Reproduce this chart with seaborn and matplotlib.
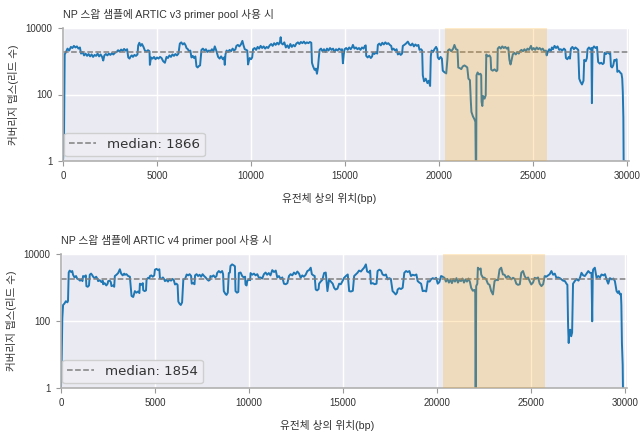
import matplotlib
matplotlib.use("Agg")
import matplotlib.pyplot as plt
from matplotlib.ticker import FixedLocator, NullLocator
from matplotlib.lines import Line2D
import seaborn as sns
import pandas as pd

titles = ["NP 스왑 샘플에 ARTIC v3 primer pool 사용 시",
          "NP 스왑 샘플에 ARTIC v4 primer pool 사용 시"]
medians = [1866, 1854]
x_label = "유전체 상의 위치(bp)"
y_label = "커버리지 뎁스(리드 수)"
x_ticks = [0, 5000, 10000, 15000, 20000, 25000, 30000]
y_ticks = [1, 100, 10000]
y_tick_labels = ["1", "100", "10000"]
highlight = [20290, 25750]

v3_pos = [0, 50, 90, 160, 240, 330, 420, 500, 580, 660, 740, 820, 900,
          960, 1040, 1120, 1200, 1280, 1360, 1440, 1520, 1600, 1680, 1760, 1840, 1920, 2000, 2080,
          2140, 2200, 2280, 2360, 2440, 2520, 2600, 2680, 2760,
          2850, 2930, 3010, 3090, 3170, 3250, 3330, 3410,
          3470, 3540, 3600, 3660, 3720, 3800, 3880, 3960,
          4000, 4060, 4130, 4200, 4280, 4354, 4430, 4520, 4600,
          4620, 4680, 4760, 4840, 4920, 5000, 5080, 5160, 5240, 5328, 5420,
          5505, 5580, 5660, 5740, 5820, 5900, 5980, 6060, 6140,
          6213, 6290, 6370, 6450, 6520, 6567, 6640, 6700, 6770, 6832, 6900, 6970, 7040, 7098, 7160, 7230, 7290,
          7364, 7440, 7520, 7600, 7680, 7760, 7840, 7920, 8000, 8072, 8150,
          8249, 8330, 8410, 8500, 8570, 8603, 8640, 8700, 8780, 8860, 8940, 9020, 9100, 9170,
          9222, 9300, 9380, 9460, 9541, 9600, 9665, 9740, 9800, 9842, 9890, 9930, 10000, 10060,
          10107, 10190, 10270, 10350, 10430, 10510, 10590, 10670, 10750, 10830, 10910,
          10992, 11070, 11150, 11230, 11310, 11390, 11470, 11540, 11576, 11611, 11690, 11770, 11850,
          11930, 12010, 12090, 12170, 12250, 12330,
          12408, 12490, 12570, 12650, 12730, 12810, 12890, 12970, 13050, 13130, 13204,
          13240, 13300, 13381, 13450, 13505, 13560, 13600,
          13646, 13720, 13800, 13880, 13960, 14040, 14120, 14200, 14280, 14360, 14440, 14520, 14600,
          14680, 14760, 14840, 14886, 14930,
          14974, 15060, 15140, 15220, 15300, 15380, 15417, 15500, 15580, 15660, 15740, 15820, 15900,
          15980, 16060, 16100,
          16125, 16200, 16280, 16370, 16440,
          16479, 16560, 16640, 16710,
          16745, 16820, 16900, 16980, 17060, 17140, 17220, 17300, 17380, 17453,
          17500, 17580, 17660, 17740, 17807, 17880, 17960, 18030,
          18072, 18150, 18240, 18338, 18420, 18500, 18580, 18660, 18740, 18820, 18900, 18957, 19040, 19100,
          19134, 19200, 19290, 19380, 19450, 19524, 19560,
          19600, 19680, 19754, 19842, 19900, 19931, 20000, 20080, 20150,
          20196, 20280, 20380, 20440, 20470, 20550, 20650, 20750, 20816, 20900, 20980,
          21020, 21100, 21180, 21260, 21350, 21430, 21500, 21560, 21640, 21690, 21720, 21800, 21880,
          21930, 21950, 21975, 21990, 22050, 22120, 22200, 22240,
          22260, 22300, 22340, 22420, 22480,
          22510, 22590, 22680, 22740, 22770, 22850, 22950, 23050, 23100,
          23120, 23200, 23280, 23360, 23440, 23520, 23600, 23680, 23740, 23800, 23850,
          23920, 24000, 24080, 24160, 24240, 24300, 24380, 24460, 24540, 24620, 24700, 24780, 24888,
          24950, 25030, 25110, 25190, 25270, 25350, 25430, 25510, 25600,
          25680, 25720, 25780, 25860, 25940, 26000, 26060, 26140, 26220, 26300, 26390, 26470, 26550,
          26640, 26710,
          26745, 26820, 26900, 26960,
          27010, 27090, 27170, 27250, 27330, 27400,
          27453, 27520, 27600, 27680, 27718, 27800, 27860,
          27895, 27970, 28040, 28100, 28127, 28160, 28240, 28320, 28400,
          28460, 28540, 28620, 28700, 28760,
          28800, 28880, 28960, 29040, 29100,
          29140, 29200, 29260,
          29320, 29380, 29440,
          29480, 29560, 29640, 29700, 29740, 29770, 29790, 29800, 29815, 29903]
v3_depth = [1, 3, 1600, 1900, 2400, 2100, 2700, 2500, 2900, 2600, 2800, 2400, 2600,
            1700, 1900, 1500, 1700, 1450, 1650, 1400, 1600, 1350, 1550, 1450, 1700, 1400, 1600, 1350,
            1050, 1500, 1650, 1500, 1700, 1550, 1750, 1600, 1800,
            1900, 2150, 1950, 2250, 2050, 2350, 2100, 2300,
            1300, 1200, 1400, 1500, 1350, 1550, 1450, 1600,
            3000, 3600, 2900, 3300, 2700, 2100, 1950, 2150, 2000,
            780, 1300, 1200, 1350, 1150, 1300, 1200, 1350, 1250, 1000, 900,
            1350, 1250, 1500, 1350, 1600, 1450, 1650, 1500, 1700,
            3400, 3700, 3200, 3500, 3000, 2500, 2300, 2000, 2100, 1300, 1450, 1250, 1400, 700, 650, 720, 750,
            2200, 2400, 2100, 2300, 1900, 2100, 2000, 2300, 2000, 2800, 2100,
            1350, 1200, 1400, 1150, 1300, 780, 1600, 2100, 1900, 2200, 2000, 2400, 2100, 2300,
            2900, 3100, 2800, 3200, 4100, 3000, 2300, 2200, 2100, 800, 1050, 1250, 1150, 1300,
            2300, 2500, 2200, 2700, 2400, 2900, 2500, 2800, 2400, 2700, 2500,
            3000, 3300, 2900, 3500, 3100, 3600, 3200, 3900, 5300, 3500, 3200, 3700, 2600,
            3000, 2500, 3300, 2700, 3100, 2800,
            3400, 3700, 3300, 3800, 3500, 3900, 3400, 3700, 3500, 3800, 3600,
            900, 700, 550, 600, 420, 650, 1200,
            2200, 2400, 2000, 2300, 1900, 2400, 2100, 2500, 2200, 2400, 1900, 2300, 2100,
            2400, 2200, 2300, 870, 1600,
            2300, 2500, 2200, 2600, 2300, 2700, 3100, 2400, 2600, 2300, 2500, 2200, 2600,
            2400, 2900, 3000,
            1450, 1300, 1450, 1250, 1400,
            1800, 1650, 1850, 1700,
            3100, 3400, 3000, 3600, 3200, 3700, 3300, 3500, 3100, 2900,
            2200, 2400, 2100, 2300, 1600, 1750, 1550, 1700,
            2900, 3100, 3400, 3900, 3200, 3000, 3400, 2800, 3200, 2900, 3100, 2200, 2300, 2100,
            380, 250, 300, 220, 260, 180, 1400,
            2100, 1900, 2300, 2700, 2300, 1300, 1150, 1350, 1200,
            520, 470, 430, 1100, 2100, 2300, 2000, 2400, 3100, 2300, 2200,
            650, 620, 580, 700, 750, 700, 650, 300, 270, 60, 30, 22, 18,
            15, 1, 1, 380, 460, 400, 420, 380,
            60, 45, 90, 75, 95,
            1600, 1400, 1500, 1300, 560, 520, 570, 500, 540,
            2400, 2700, 2400, 2800, 2500, 2700, 2400, 2600, 1100, 800, 1050,
            1600, 1800, 1600, 1900, 1700, 2000, 2200, 2000, 2300, 2000, 2400, 2200, 2900,
            2200, 2500, 2200, 2600, 2300, 2500, 2200, 2400, 2000,
            2100, 1500, 1900, 2300, 2000, 2600, 2300, 2900, 2500, 2800, 2200, 2300, 2100,
            2400, 2200,
            1250, 1150, 1350, 1200,
            2400, 2700, 2300, 2600, 2400, 2200,
            300, 240, 200, 260, 1100, 1000, 1250,
            2300, 2600, 2300, 2500, 55, 2400, 2800, 2500, 2700,
            950, 850, 900, 820, 880,
            1800, 1650, 1900, 1700, 1800,
            700, 650, 750,
            1100, 1050, 1150,
            480, 520, 450, 420, 300, 120, 40, 20, 1, 1]

v4_pos = [0, 30, 70, 110, 180, 260, 340, 373, 410, 462, 540, 600, 640, 720, 800, 870, 940, 1010, 1090, 1140,
          1173, 1260, 1320, 1351, 1420, 1490, 1529, 1600, 1670, 1707, 1790, 1870, 1940, 1973, 2060, 2150, 2220,
          2240, 2320, 2410, 2480, 2507, 2590, 2650, 2684, 2770, 2830, 2862, 2950, 3040, 3129, 3200, 3280,
          3360, 3396, 3480, 3573, 3662, 3700,
          3751, 3840, 3929, 4010, 4100, 4170, 4196, 4280, 4350, 4373, 4450, 4520, 4551, 4640, 4700,
          4729, 4800, 4880, 4960,
          4995, 5080, 5160, 5230, 5262, 5340, 5420, 5490, 5529, 5610, 5690, 5770, 5850, 5930, 6000,
          6062, 6140, 6200,
          6240, 6300, 6370, 6440, 6506, 6600, 6684, 6760, 6840, 6920, 6951, 7030, 7100,
          7129, 7210, 7290, 7370, 7450, 7530, 7610, 7690, 7769, 7850, 7920,
          7946, 8030, 8110, 8200, 8270, 8302, 8391, 8480, 8569, 8620,
          8657, 8740, 8800, 8870, 8924, 8980, 9013, 9100, 9180, 9250,
          9280, 9360, 9430, 9458, 9550, 9635, 9720, 9790, 9813, 9870, 9902, 9990, 10060,
          10080, 10170, 10260, 10350, 10440, 10524, 10610, 10700, 10791, 10880, 10960, 11050, 11140,
          11235, 11330, 11420, 11502, 11590, 11680, 11770,
          11857, 11950, 12040, 12124, 12210, 12300, 12390, 12480, 12570, 12660, 12746, 12830, 12920, 13010,
          13102, 13190, 13280, 13340, 13420, 13490, 13546, 13620, 13700, 13724, 13810, 13900, 13991,
          14080, 14169, 14257, 14350, 14450,
          14524, 14600, 14700, 14791, 14880, 14969, 15057, 15150, 15250, 15324, 15420, 15520,
          15590, 15680, 15768, 15850, 15950, 16035, 16120, 16213, 16280, 16380, 16440,
          16479, 16580, 16680, 16780, 16835, 16930, 17020, 17101, 17190, 17280, 17368, 17450, 17540,
          17634, 17720, 17800, 17870,
          17901, 17990, 18080, 18170, 18257, 18350, 18440, 18530, 18613, 18700, 18800, 18900, 18968,
          19060, 19150,
          19235, 19330, 19420, 19502, 19600, 19679, 19770, 19860, 19950, 20035, 20120, 20213, 20300,
          20391, 20470, 20550, 20630, 20710, 20790, 20870, 20950, 21030, 21110, 21190, 21270, 21350,
          21430, 21510, 21590, 21670, 21750,
          21813, 21900, 21980, 22030, 22044, 22060, 22080, 22140,
          22169, 22250, 22320, 22346, 22430, 22523, 22610, 22701, 22790,
          22878, 22970, 23056, 23150, 23240, 23323, 23410, 23501, 23590, 23678, 23780, 23860, 23945,
          24040, 24130,
          24212, 24300, 24400, 24479, 24570, 24656, 24750, 24840, 24923, 25010, 25100, 25190, 25280,
          25370, 25456, 25550, 25640,
          25723, 25810, 25901, 25990, 26080, 26170, 26260, 26345, 26440, 26530, 26612, 26700, 26800,
          26879, 26930,
          26968, 27000, 27021, 27080, 27130, 27181, 27230, 27323, 27420, 27520, 27600,
          27679, 27770, 27857, 27950, 28040, 28123, 28212, 28250, 28280, 28301, 28390, 28479, 28570, 28660,
          28745, 28850, 28930, 29012, 29100, 29190, 29300, 29380, 29456, 29545, 29610, 29670, 29720,
          29776, 29800, 29830, 29850, 29870, 29885, 29903]
v4_depth = [1, 4, 120, 300, 330, 390, 360, 400, 2800, 3200, 2900, 3100, 2400, 2000, 2200, 1800, 1750, 1600, 1750, 1550,
            2200, 2100, 2300, 1100, 1050, 1150, 2400, 2600, 2300, 2100, 1900, 2100, 1800, 1550, 1650, 1450, 1600,
            1250, 1350, 1150, 1300, 1550, 1600, 1450, 1100, 1150, 1050, 2200, 2400, 2700, 3500, 2600, 2300,
            2600, 2400, 2500, 2200, 2100, 1200,
            560, 520, 780, 700, 760, 680, 1300, 1200, 1350, 830, 780, 820, 1750, 1950, 1850,
            2200, 2300, 2100, 2300,
            3400, 3600, 3300, 3500, 1900, 1800, 2000, 1750, 1550, 1700, 1500, 1750, 1600, 1800, 1650,
            1230, 1300, 1200,
            380, 330, 300, 360, 1750, 1800, 2450, 2300, 2500, 2200, 1300, 1350, 1250,
            2300, 2500, 2200, 2400, 2100, 2500, 2200, 2000, 1750, 1600, 1700,
            2200, 2100, 2300, 2000, 2200, 2700, 3100, 2800, 3100, 2500,
            780, 650, 600, 700, 2700, 2800, 4400, 4900, 4600, 4300,
            780, 700, 740, 2700, 2800, 2200, 2000, 2100, 1230, 1150, 1550, 1750, 1650,
            2700, 2400, 2600, 2300, 2500, 1950, 2000, 1850, 2500, 2800, 2400, 2700, 2300,
            3300, 2900, 3200, 2000, 2200, 1800, 2000,
            1300, 1250, 1350, 2200, 2500, 2300, 2800, 2500, 3000, 2600, 1950, 2300, 2100, 2400,
            3100, 3300, 3900, 2500, 2300, 2200, 870, 820, 900, 1300, 1500, 1700, 2700,
            2800, 780, 1750, 1500, 1300,
            980, 870, 920, 1300, 1250, 1550, 1950, 2200, 2450, 780, 760, 800,
            2200, 2450, 2750, 3200, 3000, 3450, 3900, 4900, 3000, 2800, 3200,
            1300, 1350, 1250, 1300, 3100, 3400, 3200, 2450, 2300, 2450, 1750, 1900, 1800,
            780, 700, 620, 700,
            870, 950, 900, 980, 2750, 3100, 2900, 3100, 2200, 2400, 2300, 2450, 1550,
            1400, 1300,
            780, 800, 760, 1550, 1500, 1750, 1900, 1800, 1950, 1300, 1450, 2200, 2100,
            1950, 1500, 1800, 1400, 1700, 1350, 1800, 1500, 1900, 1400, 1700, 1550, 1850,
            1400, 1750, 1500, 1850, 1450,
            980, 800, 850, 700, 1, 1, 1100, 1300,
            3900, 3450, 3700, 2450, 2000, 1950, 1750, 1300, 1200,
            780, 620, 1550, 1700, 1650, 3450, 3900, 2450, 2400, 1950, 2200, 2000, 1750,
            1950, 1800,
            1300, 1200, 1250, 2750, 3100, 2200, 1800, 2000, 1550, 1230, 1400, 1950, 1850,
            2000, 1300, 1100, 1250,
            2200, 2100, 2300, 2500, 3100, 2400, 2600, 1950, 2000, 1900, 1750, 1600, 1550,
            1300, 1200,
            69, 22, 40, 55, 35, 45, 1300, 1550, 1800, 1600, 1950,
            2750, 2300, 2200, 2600, 3100, 2750, 2700, 98, 2800, 3450, 3900, 1950, 2200, 2000,
            2450, 2300, 2500, 1750, 1300, 1900, 1750, 1850, 1550, 780, 690, 780, 620,
            650, 300, 22, 10, 5, 1, 1]

sns.set_theme(style="darkgrid")
plt.rcParams["font.family"] = ["Liberation Sans", "Noto Sans CJK KR", "DejaVu Sans"]

W, H = 641, 437
fig, axes = plt.subplots(2, 1, figsize=(W / 100, H / 100), dpi=100)
axes[0].set_position([63 / W, 1 - 161 / H, 566 / W, 133 / H])
axes[1].set_position([61 / W, 1 - 388 / H, 566 / W, 134 / H])

series = [(v3_pos, v3_depth), (v4_pos, v4_depth)]
text_color = "#333333"

for ax, (pos, depth), title, med in zip(axes, series, titles, medians):
    df = pd.DataFrame({"pos": pos, "depth": depth})
    sns.lineplot(data=df, x="pos", y="depth", ax=ax, color="#1f77b4",
                 linewidth=1.4, estimator=None, zorder=2)
    ax.axhline(med, color="#808080", ls="--", lw=1.1, zorder=2.5)
    ax.axvspan(highlight[0], highlight[1], color="orange", alpha=0.22, lw=0, zorder=3)

    ax.set_yscale("log")
    ax.set_ylim(1, 10000)
    ax.set_xlim(0, 30100)
    ax.yaxis.set_major_locator(FixedLocator(y_ticks))
    ax.yaxis.set_minor_locator(NullLocator())
    ax.set_yticklabels(y_tick_labels)
    ax.set_xticks(x_ticks)
    ax.set_xticklabels([str(t) for t in x_ticks])

    for side in ["top", "right"]:
        ax.spines[side].set_visible(False)
    for side in ["left", "bottom"]:
        ax.spines[side].set_visible(True)
        ax.spines[side].set_color("#b0b0b0")
        ax.spines[side].set_linewidth(1.2)

    ax.tick_params(axis="both", which="major", bottom=True, left=True, length=3.5,
                   width=0.8, color="#999999", labelsize=7.0, labelcolor=text_color, pad=4)

    ax.set_title(title, loc="left", fontsize=7.7, pad=7.0, color=text_color)
    ax.set_xlabel(x_label, fontsize=7.7, color=text_color)
    ax.xaxis.set_label_coords(0.47, -0.24)
    ax.set_ylabel(y_label, fontsize=7.6, color=text_color)
    ax.yaxis.set_label_coords(-0.077, 0.5)

    handle = Line2D([0], [0], color="#808080", ls="--", lw=1.1)
    leg = ax.legend([handle], [f"median: {med}"], loc="lower left",
                    bbox_to_anchor=(0.002, 0.035), borderaxespad=0,
                    prop={"family": "DejaVu Sans", "size": 9.6}, frameon=True,
                    facecolor="#eeeef4", edgecolor="#cccccc", framealpha=0.9)
    for t in leg.get_texts():
        t.set_color(text_color)

fig.savefig("out.png", dpi=100)
